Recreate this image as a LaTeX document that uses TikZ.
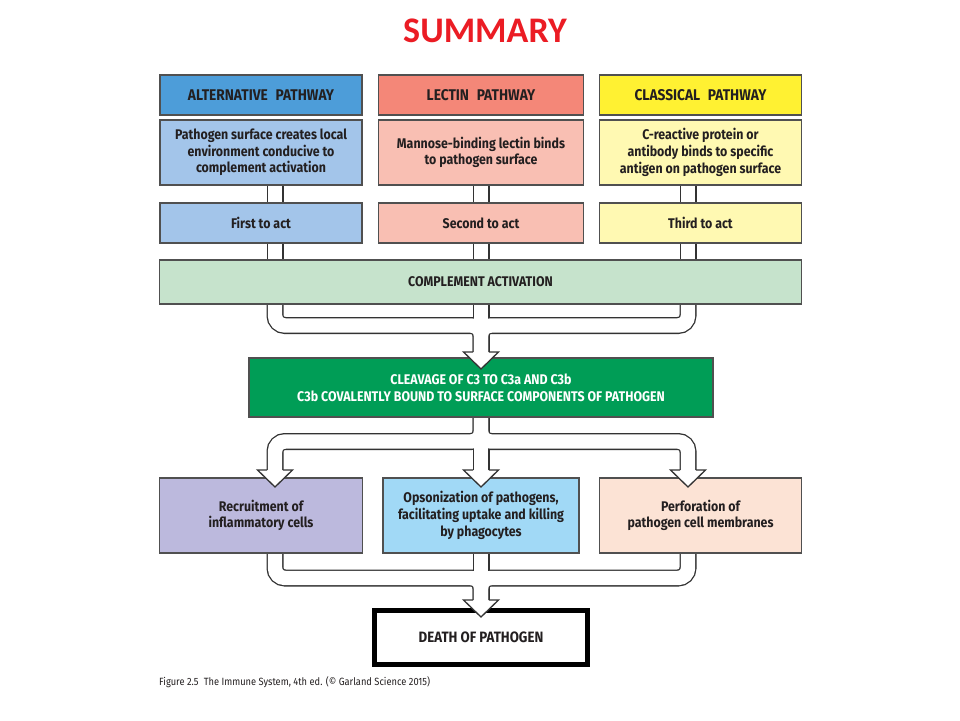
\documentclass[tikz,border=0pt]{standalone}
\usepackage{fontspec}
\setmainfont{Fira Sans}[FakeStretch=0.885]
\newfontfamily\titlefont{Carlito}
\usetikzlibrary{positioning}
\usetikzlibrary{backgrounds}

\definecolor{altdark}{RGB}{77,157,217}
\definecolor{altlight}{RGB}{163,197,234}
\definecolor{lecdark}{RGB}{244,135,120}
\definecolor{leclight}{RGB}{249,191,179}
\definecolor{clsdark}{RGB}{255,241,50}
\definecolor{clslight}{RGB}{255,249,178}
\definecolor{compl}{RGB}{198,227,204}
\definecolor{cleav}{RGB}{0,157,86}
\definecolor{recruit}{RGB}{188,185,221}
\definecolor{opson}{RGB}{161,217,246}
\definecolor{perfor}{RGB}{252,227,213}
\definecolor{edge}{RGB}{80,80,80}
\definecolor{txt}{RGB}{35,31,32}
\definecolor{titlered}{RGB}{235,28,36}

\begin{document}
\begin{tikzpicture}[x=1pt,y=-1pt,
  box/.style={draw=edge,line width=1.2pt,text=txt,align=center,inner sep=2pt,
    font=\bfseries\fontsize{14}{16.7}\selectfont},
  headbox/.style={box,minimum height=40pt,font=\bfseries\fontsize{15.5}{18}\selectfont},
  pipeout/.style={draw=black!80,line width=17pt,rounded corners=10pt},
  pipein/.style={draw=white,line width=14.4pt,rounded corners=10pt},
  head/.style={fill=white,draw=black!80,line width=1.3pt,line join=miter}]
  \useasboundingbox (0,0) rectangle (960,720);

  \node[font=\titlefont\bfseries\fontsize{36}{40}\selectfont,text=titlered] (title) at (485,31) {SUMMARY};

  % pathways
  \node[headbox,fill=altdark,minimum width=202pt] (althead) at (261,95) {ALTERNATIVE\enspace PATHWAY};
  \node[headbox,fill=lecdark,minimum width=205pt] (lechead) at (481,95) {LECTIN\enspace PATHWAY};
  \node[headbox,fill=clsdark,minimum width=202pt] (clshead) at (700.5,95) {CLASSICAL\enspace PATHWAY};

  \node[box,fill=altlight,minimum width=202pt,minimum height=65pt] (altdesc) at (261,152.5)
    {Pathogen surface creates local\\environment conducive to\\complement activation};
  \node[box,fill=leclight,minimum width=205pt,minimum height=65pt] (lecdesc) at (481,152.5)
    {Mannose-binding lectin binds\\to pathogen surface};
  \node[box,fill=clslight,minimum width=202pt,minimum height=65pt] (clsdesc) at (700.5,152.5)
    {C-reactive protein or\\antibody binds to specific\\antigen on pathogen surface};

  \node[box,fill=altlight,minimum width=202pt,minimum height=40pt] (altact) at (261,223) {First to act};
  \node[box,fill=leclight,minimum width=205pt,minimum height=40pt] (lecact) at (481,223) {Second to act};
  \node[box,fill=clslight,minimum width=202pt,minimum height=40pt] (clsact) at (700.5,223) {Third to act};

  \node[box,fill=compl,minimum width=642pt,minimum height=44pt] (compl) at (480.5,282) {COMPLEMENT ACTIVATION};
  \node[box,fill=cleav,text=white,minimum width=464pt,minimum height=59pt] (cleav) at (481,387.5)
    {CLEAVAGE OF C3 TO C3a AND C3b\\C3b COVALENTLY BOUND TO SURFACE COMPONENTS OF PATHOGEN};

  % effects
  \node[box,fill=recruit,minimum width=203pt,minimum height=75pt] (recruit) at (261,515.5)
    {Recruitment of\\inflammatory cells};
  \node[box,fill=opson,minimum width=196pt,minimum height=75pt] (opson) at (481,515.5)
    {Opsonization of pathogens,\\facilitating uptake and killing\\by phagocytes};
  \node[box,fill=perfor,minimum width=202pt,minimum height=75pt] (perfor) at (700.5,515.5)
    {Perforation of\\pathogen cell membranes};

  \node[box,draw=black,fill=white,line width=5pt,minimum width=213pt,minimum height=54pt,
    font=\bfseries\fontsize{15}{18}\selectfont] (death) at (481,637.5) {DEATH OF PATHOGEN};

  \node[anchor=base west,text=txt,inner sep=0pt,font=\fontsize{10.5}{12}\selectfont] (caption) at (159,685)
    {Figure 2.5\enspace The Immune System, 4th ed. (© Garland Science 2015)};

  % pipe positions
  \coordinate (pl) at (275,0);
  \coordinate (pm) at (481,0);
  \coordinate (pr) at (688,0);
  \coordinate (jA) at (481,325.5);
  \coordinate (hA) at (481,352);
  \coordinate (jB) at (481,441.5);
  \coordinate (jBl) at (275,441.5);
  \coordinate (jBr) at (688,441.5);
  \coordinate (hBl) at (275,470);
  \coordinate (hBm) at (481,470);
  \coordinate (hBr) at (688,470);
  \coordinate (jC) at (481,578);
  \coordinate (hC) at (481,600);

  \begin{scope}[on background layer]
    \fill[white] (0,0) rectangle (960,720);
    \foreach \lay in {pipeout,pipein}{
      \draw[\lay] (altdesc.south -| pl) -- (altact.north -| pl);
      \draw[\lay] (lecdesc.south -| pm) -- (lecact.north -| pm);
      \draw[\lay] (clsdesc.south -| pr) -- (clsact.north -| pr);
      \draw[\lay] (altact.south -| pl) -- (compl.north -| pl);
      \draw[\lay] (lecact.south -| pm) -- (compl.north -| pm);
      \draw[\lay] (clsact.south -| pr) -- (compl.north -| pr);
      \draw[\lay] (compl.south -| pl) -- (pl |- jA) -- (jA) -- ([yshift=-3pt]hA);
      \draw[\lay] (compl.south -| pm) -- ([yshift=-3pt]hA);
      \draw[\lay] (compl.south -| pr) -- (pr |- jA) -- (jA) -- ([yshift=-3pt]hA);
      \draw[\lay] (cleav.south -| pm) -- (jB) -- (jBl) -- ([yshift=-3pt]hBl);
      \draw[\lay] (cleav.south -| pm) -- ([yshift=-3pt]hBm);
      \draw[\lay] (cleav.south -| pm) -- (jB) -- (jBr) -- ([yshift=-3pt]hBr);
      \draw[\lay] (recruit.south -| pl) -- (pl |- jC) -- (jC) -- ([yshift=-3pt]hC);
      \draw[\lay] (opson.south -| pm) -- ([yshift=-3pt]hC);
      \draw[\lay] (perfor.south -| pr) -- (pr |- jC) -- (jC) -- ([yshift=-3pt]hC);
    }
  \end{scope}

  % arrow heads
  \foreach \h in {hA,hBl,hBm,hBr,hC}
    \draw[head] ([xshift=-7.9pt]\h) -- ++(-9.6,0) -- ++(17.5,17) -- ++(17.5,-17) -- ++(-9.6,0);
\end{tikzpicture}
\end{document}
